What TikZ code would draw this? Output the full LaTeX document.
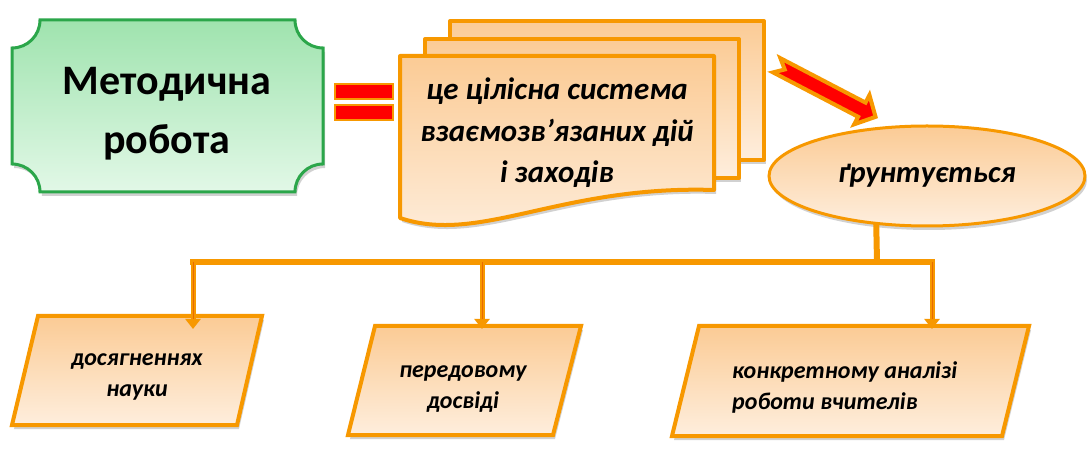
\documentclass[tikz,border=0pt]{standalone}
\usepackage{fontspec}
\setmainfont{Carlito}
\usetikzlibrary{shapes.geometric,arrows.meta,shadows,calc}
\definecolor{orng}{HTML}{F79800}
\definecolor{orngdk}{HTML}{E86A00}
\definecolor{peachA}{HTML}{FBCB95}
\definecolor{peachB}{HTML}{FEEEDD}
\definecolor{grnA}{HTML}{9FE3AE}
\definecolor{grnB}{HTML}{E2F8E7}
\definecolor{grnline}{HTML}{2BA64A}
\definecolor{redf}{HTML}{FF0000}
\begin{document}
\begin{tikzpicture}[x=1bp,y=-1bp,
  softshadow/.style={drop shadow={shadow xshift=2bp,shadow yshift=-4bp,opacity=.3,fill=black!60}},
  plaque/.style={draw=grnline,line width=3bp,top color=grnA,bottom color=grnB,softshadow},
  plaquetext/.style={align=center,inner sep=0pt,font=\fontsize{42bp}{59bp}\selectfont\bfseries},
  eqbar/.style={draw=orng,line width=2.5bp,fill=redf},
  sheet/.style={draw=orng,line width=4bp,line join=round,top color=peachA,bottom color=peachB,softshadow},
  doctext/.style={align=center,inner sep=0pt,font=\fontsize{31bp}{41.5bp}\selectfont\bfseries\itshape},
  redarrow/.style={draw=orng,line width=4bp,line join=miter,fill=redf},
  oval/.style={ellipse,draw=orng,line width=3bp,top color=peachA,bottom color=peachB,softshadow,
    minimum width=316bp,minimum height=100bp,inner sep=0pt,outer sep=0pt,
    font=\fontsize{30.5bp}{35bp}\selectfont\bfseries\itshape},
  boxarea/.style={inner sep=0pt,outer sep=0pt,draw=none},
  pbox/.style={draw=orng,line width=4bp,line join=miter,top color=peachA,bottom color=peachB,softshadow},
  boxtext/.style={inner sep=0pt,font=\fontsize{24bp}{31bp}\selectfont\bfseries\itshape},
  conn/.style={draw=orng,line width=6bp},
  droparrow/.style={draw=orng,line width=5bp,-{Triangle[width=15bp,length=10bp]}},
  dropcore/.style={draw=orngdk,line width=1bp,shorten >=10bp}
]
\useasboundingbox (0,0) rectangle (1088,457);

% green plaque
\path[plaque] (40,20) -- (295,20) .. controls (295,35.5) and (307.5,48) .. (323,48)
  -- (323,164) .. controls (307.5,164) and (295,176.5) .. (295,192)
  -- (40,192) .. controls (40,176.5) and (27.5,164) .. (12,164)
  -- (12,48) .. controls (27.5,48) and (40,35.5) .. (40,20) -- cycle;
\node[plaquetext] (m) at (167,114) {Методична\\робота};

% equals sign
\path[eqbar] (335,84) rectangle (393,99);
\path[eqbar] (335,105) rectangle (393,120);

% stacked documents
\path[sheet] (450,21) rectangle (764,160);
\path[sheet] (425,39) rectangle (739,178);
\path[sheet] (400,56) -- (714,56) -- (714,190) .. controls (560,185) and (480,245) .. (400,218) -- cycle;
\node[doctext] (d) at (557,133) {це цілісна система\\взаємозв’язаних дій\\і заходів};

% red block arrow
\begin{scope}[shift={(776.7,65.3)},rotate=-27.55]
\path[redarrow] (0,-8) -- (96,-8) -- (96,-16.5) -- (111.5,0) -- (96,16.5) -- (96,8) -- (0,8) -- (9,0) -- cycle;
\end{scope}

% ellipse
\node[oval] (e) at (927,176) {ґрунтується};

% bottom boxes
\node[boxarea,minimum width=250bp,minimum height=109bp] (p1) at (137,370.5) {};
\node[boxarea,minimum width=233bp,minimum height=109bp] (p2) at (464.5,380.5) {};
\node[boxarea,minimum width=357bp,minimum height=110bp] (p3) at (850.5,381) {};
\path[pbox] ($(p1.north west)+(26,0)$) -- (p1.north east) -- ($(p1.south east)-(25,0)$) -- (p1.south west) -- cycle;
\path[pbox] ($(p2.north west)+(27,0)$) -- (p2.north east) -- ($(p2.south east)-(28,0)$) -- (p2.south west) -- cycle;
\path[pbox] ($(p3.north west)+(27,0)$) -- (p3.north east) -- ($(p3.south east)-(27,0)$) -- (p3.south west) -- cycle;
\node[boxtext,align=center] (t1) at (137,377) {досягненнях\\науки};
\node[boxtext,align=center] (t2) at (463,389) {передовому\\досвіді};
\node[boxtext,align=left,anchor=west] (t3) at (732,387) {конкретному аналізі\\роботи вчителів};

% connectors
\coordinate (hub) at (877,262);
\coordinate (jl) at (193,262);
\coordinate (jm) at (482,262);
\coordinate (jr) at (932,262);
\draw[conn] (e.223.5) -- (hub);
\draw[conn,line cap=rect] (jl) -- (jr);
\draw[droparrow] (jl) -- ($(p1.north -| jl)+(0,13)$);
\draw[droparrow] (jm) -- ($(p2.north -| jm)+(0,3)$);
\draw[droparrow] (jr) -- ($(p3.north -| jr)+(0,3)$);
\draw[dropcore] (jl) -- ($(p1.north -| jl)+(0,13)$);
\draw[dropcore] (jm) -- ($(p2.north -| jm)+(0,3)$);
\draw[dropcore] (jr) -- ($(p3.north -| jr)+(0,3)$);
\end{tikzpicture}
\end{document}
